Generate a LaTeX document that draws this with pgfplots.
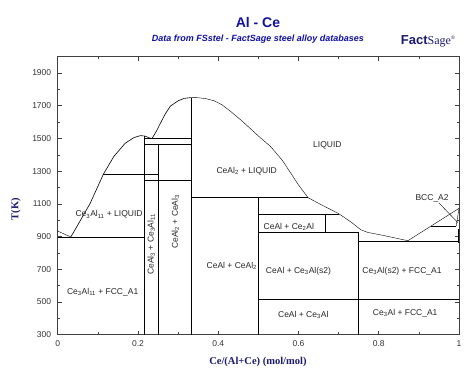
\documentclass[border=0pt]{standalone}
\usepackage{pgfplots}
\pgfplotsset{compat=1.18}
\usepackage{fontspec}
\setmainfont{Liberation Sans}
\newfontfamily\serif{Liberation Serif}
\definecolor{titleblue}{HTML}{1010A8}
\definecolor{navy}{HTML}{1A1A70}
\definecolor{tickgray}{HTML}{333333}
\begin{document}
\begin{tikzpicture}
\useasboundingbox (-57.7pt,-38.5pt) rectangle (416.3pt,334.5pt);
\begin{axis}[
  at={(0,0)}, anchor=south west,
  scale only axis, width=401.3pt, height=277.8pt,
  xmin=0, xmax=1, ymin=300, ymax=2000,
  xtick={0,0.2,0.4,0.6,0.8,1},
  xticklabels={0,0.2,0.4,0.6,0.8,1},
  minor xtick={0.1,0.3,0.5,0.7,0.9},
  ytick={300,500,700,900,1100,1300,1500,1700,1900},
  yticklabels={300,500,700,900,1100,1300,1500,1700,1900},
  minor ytick={400,600,800,1000,1200,1400,1600,1800},
  tick align=inside,
  major tick length=4pt, minor tick length=2.5pt,
  axis line style={draw=black!75, line width=0.6pt},
  tick style={draw=black!75, line width=0.5pt},
  ticklabel style={font=\fontsize{8.5}{10}\selectfont, text=tickgray},
  xticklabel style={yshift=-3pt},
  yticklabel style={xshift=-3pt},
  /pgf/number format/assume math mode=true,
  clip=false,
  cycle list={{black, solid, line width=0.6pt, mark=none}},
]
% Al-side liquidus and eutectic
\addplot coordinates {(0,933) (0.0325,897)};
\addplot coordinates {(0,897) (0.2165,897)};
\addplot coordinates {(0.0325,897) (0.043,940) (0.081,1103) (0.114,1282) (0.14,1390) (0.168,1470) (0.19,1505) (0.206,1517) (0.216,1515) (0.222,1510) (0.228,1503) (0.235,1499) (0.245,1540) (0.256,1593) (0.268,1650) (0.281,1698) (0.30,1730) (0.315,1745) (0.333,1750)};
% CeAl2 to Ce liquidus
\addplot coordinates {(0.333,1750) (0.35,1749) (0.37,1743) (0.39,1730) (0.41,1705) (0.431,1665) (0.46,1605) (0.48,1560) (0.50,1515) (0.531,1449) (0.56,1365) (0.581,1287) (0.60,1215) (0.624,1137) (0.66,1090) (0.70,1040) (0.73,990) (0.756,940) (0.7725,925) (0.814,905) (0.8725,874) (0.93,963) (1,1072)};
% verticals
\addplot coordinates {(0.2165,300) (0.2165,1515)};
\addplot coordinates {(0.25,300) (0.25,1466)};
\addplot coordinates {(0.333,300) (0.333,1750)};
\addplot coordinates {(0.5,300) (0.5,1137)};
\addplot coordinates {(0.667,923) (0.667,1037)};
\addplot coordinates {(0.75,300) (0.75,923)};
% horizontals
\addplot coordinates {(0.2165,1500) (0.333,1500)};
\addplot coordinates {(0.2165,1466) (0.333,1466)};
\addplot coordinates {(0.114,1282) (0.25,1282)};
\addplot coordinates {(0.2165,1245) (0.333,1245)};
\addplot coordinates {(0.333,1137) (0.624,1137)};
\addplot coordinates {(0.5,1037) (0.70,1037)};
\addplot coordinates {(0.5,923) (0.75,923)};
\addplot[black, line width=1.1pt] coordinates {(0.667,923) (0.75,923)};
\addplot coordinates {(0.75,871) (1,871)};
\addplot coordinates {(0.5,519) (1,519)};
% Ce-rich corner
\addplot coordinates {(0.93,963) (0.993,963)};
\addplot coordinates {(0.993,963) (1,1072)};
\addplot[black, line width=1.2pt] coordinates {(0.998,860) (0.998,945)};
\addplot coordinates {(0.95,1105) (0.997,985)};
% phase labels
\begin{scope}[every node/.style={font=\fontsize{8.5}{10}\selectfont, text=black!85, inner sep=0pt}]
\node at (axis cs:0.672,1460) {LIQUID};
\node at (axis cs:0.471,1302) {CeAl\textsubscript{2} + LIQUID};
\node at (axis cs:0.128,1033) {Ce\textsubscript{3}Al\textsubscript{11} + LIQUID};
\node at (axis cs:0.112,558) {Ce\textsubscript{3}Al\textsubscript{11} + FCC\_A1};
\node[rotate=90] at (axis cs:0.233,852) {CeAl\textsubscript{3} + Ce\textsubscript{3}Al\textsubscript{11}};
\node[rotate=90] at (axis cs:0.2935,990) {CeAl\textsubscript{2} + CeAl\textsubscript{3}};
\node at (axis cs:0.434,719) {CeAl + CeAl\textsubscript{2}};
\node at (axis cs:0.576,960) {CeAl + Ce\textsubscript{2}Al};
\node at (axis cs:0.60,689) {CeAl + Ce\textsubscript{3}Al(s2)};
\node at (axis cs:0.858,689) {Ce\textsubscript{3}Al(s2) + FCC\_A1};
\node at (axis cs:0.612,419) {CeAl + Ce\textsubscript{3}Al};
\node at (axis cs:0.866,433) {Ce\textsubscript{3}Al + FCC\_A1};
\node at (axis cs:0.933,1136) {BCC\_A2};
\end{scope}
% titles and axis labels
\node[text=titleblue, font=\fontsize{14}{16}\bfseries\selectfont] at (rel axis cs:0.499,1.1224) {Al - Ce};
\node[text=titleblue, font=\fontsize{9}{11}\bfseries\itshape\selectfont] at (rel axis cs:0.499,1.0626) {Data from FSstel - FactSage steel alloy databases};
\node[text=navy, font=\fontsize{13}{15}\selectfont] at (rel axis cs:0.923,1.057) {{\bfseries Fact}{\serif\fontsize{12}{14}\selectfont Sage}\textsuperscript{\tiny\textregistered}};
\node[text=navy, rotate=90, font=\serif\fontsize{10.5}{12}\bfseries\selectfont] at (rel axis cs:-0.104,0.452) {T(K)};
\node[text=navy, font=\serif\fontsize{10.5}{12}\bfseries\selectfont] at (rel axis cs:0.499,-0.099) {Ce/(Al+Ce) (mol/mol)};
\end{axis}
\end{tikzpicture}
\end{document}
